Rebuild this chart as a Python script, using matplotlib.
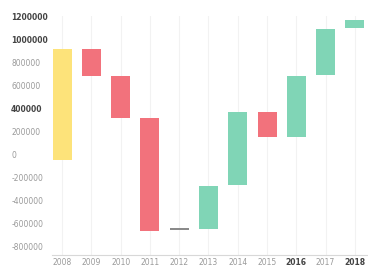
import matplotlib
matplotlib.use("Agg")
import matplotlib.pyplot as plt
import numpy as np

years = ['2008', '2009', '2010', '2011', '2012', '2013', '2014', '2015', '2016', '2017', '2018']
bar_bottom = [-45000, 684000, 316000, -664000, -650000, -641000, -266000, 153000, 156000, 692000, 1095000]
bar_top = [918000, 918000, 684000, 316000, -636000, -271000, 370000, 370000, 684000, 1090000, 1168000]
bar_kind = ['total', 'down', 'down', 'down', 'flat', 'up', 'up', 'down', 'up', 'up', 'up']
y_ticks = [1200000, 1000000, 800000, 600000, 400000, 200000, 0, -200000, -400000, -600000, -800000]
bold_y = [1200000, 1000000, 400000]
bold_x = ['2016', '2018']

colors = {'total': '#fde37a', 'down': '#f2727c', 'up': '#80d5b6', 'flat': '#8a8a8a'}

fig = plt.figure(figsize=(3.68, 2.69), dpi=100)
ax = fig.add_axes([0.141, 0.052, 0.859, 0.888])

x = np.arange(len(years))
heights = np.array(bar_top) - np.array(bar_bottom)
ax.bar(x, heights, bottom=bar_bottom, width=0.65,
       color=[colors[k] for k in bar_kind], zorder=3)

ax.set_xlim(-0.35, 10.45)
ax.set_ylim(-870000, 1200000)
ax.set_xticks(x)
ax.set_xticklabels(years)
ax.set_yticks(y_ticks)
ax.set_yticklabels([str(v) for v in y_ticks])

ax.grid(axis='x', color='#f2f2f2', linewidth=0.8, zorder=0)
for s in ['top', 'right', 'left']:
    ax.spines[s].set_visible(False)
ax.spines['bottom'].set_color('#d8d8d8')
ax.tick_params(axis='both', length=0, labelsize=5.5, colors='#9a9a9a')
ax.tick_params(axis='x', pad=2.5)
ax.tick_params(axis='y', pad=2)

for lab in ax.get_yticklabels():
    lab.set_horizontalalignment('left')
    lab.set_x(-0.12)
    if int(lab.get_text()) in bold_y:
        lab.set_color('#444444')
        lab.set_fontweight('bold')
for lab in ax.get_xticklabels():
    if lab.get_text() in bold_x:
        lab.set_color('#444444')
        lab.set_fontweight('bold')

fig.savefig('out.png', dpi=100)
